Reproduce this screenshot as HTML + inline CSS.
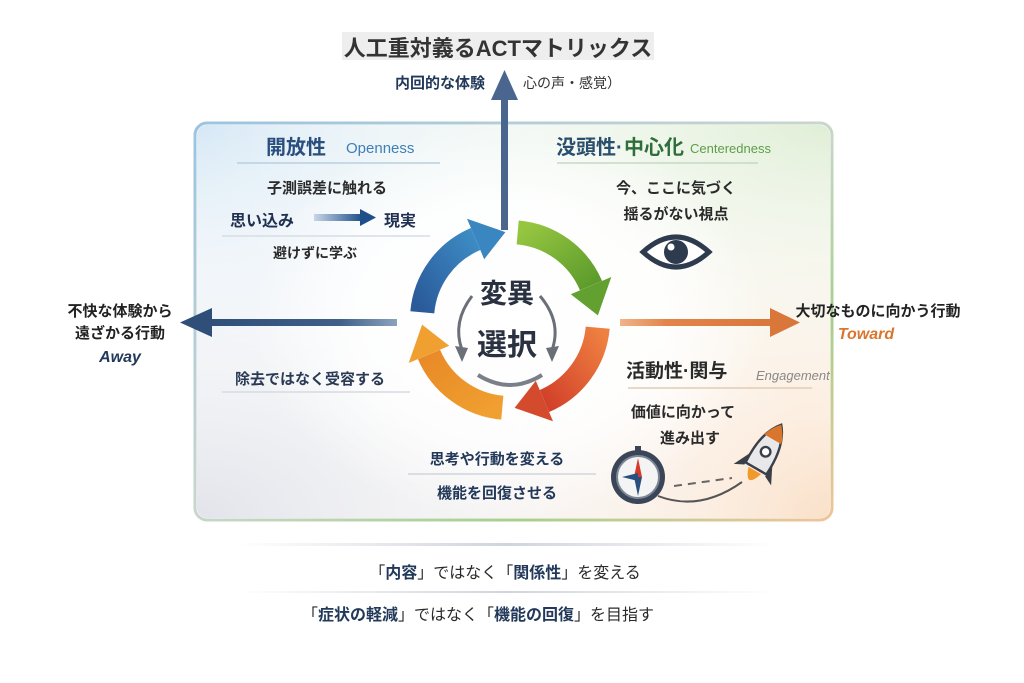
<!DOCTYPE html>
<html><head><meta charset="utf-8"><style>
html,body{margin:0;padding:0;background:#fff;}
svg{display:block;font-family:"Liberation Sans","Noto Sans CJK JP",sans-serif;}
</style></head><body>
<svg width="1024" height="683" viewBox="0 0 1024 683" xmlns="http://www.w3.org/2000/svg">
<defs>
<radialGradient id="tl" cx="0" cy="0" r="1"><stop offset="0" stop-color="#d6e8f5"/><stop offset="1" stop-color="#fff" stop-opacity="0"/></radialGradient>
<radialGradient id="tr" cx="1" cy="0" r="1"><stop offset="0" stop-color="#e0eed6"/><stop offset="1" stop-color="#fff" stop-opacity="0"/></radialGradient>
<radialGradient id="br" cx="1" cy="1" r="1"><stop offset="0" stop-color="#fae0c8"/><stop offset="1" stop-color="#fff" stop-opacity="0"/></radialGradient>
<radialGradient id="bl" cx="0" cy="1" r="1"><stop offset="0" stop-color="#e2e4ea"/><stop offset="1" stop-color="#fff" stop-opacity="0"/></radialGradient>
<radialGradient id="ctr" cx="0.5" cy="0.5" r="0.5"><stop offset="0" stop-color="#fff"/><stop offset="0.6" stop-color="#fff" stop-opacity="0.8"/><stop offset="1" stop-color="#fff" stop-opacity="0"/></radialGradient>
<linearGradient id="bord" x1="0" y1="0" x2="1" y2="1"><stop offset="0" stop-color="#9cc3e0"/><stop offset="0.5" stop-color="#c9d6cc"/><stop offset="0.75" stop-color="#a9cf8e"/><stop offset="1" stop-color="#f0c49a"/></linearGradient>
<linearGradient id="arrL" x1="1" y1="0" x2="0" y2="0"><stop offset="0" stop-color="#8aa2bd"/><stop offset="0.3" stop-color="#3f5f88"/><stop offset="1" stop-color="#2f4e78"/></linearGradient>
<linearGradient id="arrR" x1="0" y1="0" x2="1" y2="0"><stop offset="0" stop-color="#f0b48a"/><stop offset="0.3" stop-color="#e2844a"/><stop offset="1" stop-color="#d9763a"/></linearGradient>
<linearGradient id="smallarr" x1="0" y1="0" x2="1" y2="0"><stop offset="0" stop-color="#c8d6e6"/><stop offset="1" stop-color="#1f4f8a"/></linearGradient>
<linearGradient id="bluG" x1="0" y1="1" x2="1" y2="0"><stop offset="0" stop-color="#2a5a9a"/><stop offset="1" stop-color="#3d8cc4"/></linearGradient>
<linearGradient id="grnG" x1="0" y1="0" x2="1" y2="1"><stop offset="0" stop-color="#96c640"/><stop offset="1" stop-color="#5c9b2c"/></linearGradient>
<linearGradient id="redG" x1="1" y1="0" x2="0" y2="1"><stop offset="0" stop-color="#ee8040"/><stop offset="1" stop-color="#d2402a"/></linearGradient>
<linearGradient id="orgG" x1="1" y1="1" x2="0" y2="0"><stop offset="0" stop-color="#f0a030"/><stop offset="1" stop-color="#e88a28"/></linearGradient>
<linearGradient id="hl" x1="0" y1="0" x2="1" y2="0"><stop offset="0" stop-color="#d0d4dc" stop-opacity="0"/><stop offset="0.5" stop-color="#d0d4dc"/><stop offset="1" stop-color="#d0d4dc" stop-opacity="0"/></linearGradient>
</defs>

<rect x="342" y="32" width="312" height="28" fill="#eeeeee"/>
<text x="498" y="56" font-size="22" font-weight="bold" fill="#333" text-anchor="middle">人工重対義るACTマトリックス</text>

<rect x="195" y="123" width="637" height="397" rx="12" fill="#fff" stroke="url(#bord)" stroke-width="3"/>
<rect x="197" y="125" width="633" height="393" rx="10" fill="url(#tl)"/>
<rect x="197" y="125" width="633" height="393" rx="10" fill="url(#tr)"/>
<rect x="197" y="125" width="633" height="393" rx="10" fill="url(#br)"/>
<rect x="197" y="125" width="633" height="393" rx="10" fill="url(#bl)"/>
<ellipse cx="510" cy="320" rx="260" ry="200" fill="url(#ctr)"/>

<rect x="501" y="95" width="7" height="135" fill="#4a668e"/>
<polygon points="504.5,70 491,100 518,100" fill="#4a668e"/>
<text x="440" y="88" font-size="15" font-weight="bold" fill="#23395a" text-anchor="middle">内回的な体験</text>
<text x="523" y="88" font-size="14" fill="#333">心の声・感覚）</text>

<rect x="205" y="319" width="192" height="7" fill="url(#arrL)"/>
<polygon points="180,322.5 212,308 212,337" fill="#2f4e78"/>
<rect x="620" y="319" width="155" height="7" fill="url(#arrR)"/>
<polygon points="800,322.5 770,308 770,337" fill="#d9763a"/>

<text x="120" y="316" font-size="15" font-weight="bold" fill="#222" text-anchor="middle">不快な体験から</text>
<text x="120" y="338" font-size="15" font-weight="bold" fill="#222" text-anchor="middle">遠ざかる行動</text>
<text x="120" y="362" font-size="16" font-weight="bold" font-style="italic" fill="#23395a" text-anchor="middle">Away</text>
<text x="878" y="316" font-size="15" font-weight="bold" fill="#222" text-anchor="middle">大切なものに向かう行動</text>
<text x="866" y="339" font-size="16" font-weight="bold" font-style="italic" fill="#d9762e" text-anchor="middle">Toward</text>

<text x="266" y="154" font-size="20" font-weight="bold" fill="#2a4f7e">開放性</text>
<text x="346" y="153" font-size="15" fill="#3f7fb5">Openness</text>
<line x1="237" y1="163" x2="440" y2="163" stroke="#b8cfe0" stroke-width="1.5"/>
<text x="327" y="193" font-size="15" font-weight="bold" fill="#2a2a2a" text-anchor="middle">子測誤差に触れる</text>
<text x="230" y="226" font-size="16" font-weight="bold" fill="#1f3050">思い込み</text>
<rect x="314" y="214" width="48" height="7" fill="url(#smallarr)"/>
<polygon points="376,217.5 360,209 360,226" fill="#1f4f8a"/>
<text x="384" y="226" font-size="16" font-weight="bold" fill="#1f3050">現実</text>
<line x1="222" y1="236" x2="430" y2="236" stroke="#d6dde4" stroke-width="1.5"/>
<text x="315" y="258" font-size="14" font-weight="bold" fill="#2a2a2a" text-anchor="middle">避けずに学ぶ</text>

<text x="556" y="154" font-size="20" font-weight="bold" fill="#2a4f6e">没頭性·</text>
<text x="624" y="154" font-size="20" font-weight="bold" fill="#2f6e3a">中心化</text>
<text x="690" y="153" font-size="13" fill="#5c9e48">Centeredness</text>
<line x1="557" y1="163" x2="758" y2="163" stroke="#c8d8c4" stroke-width="1.5"/>
<text x="676" y="193" font-size="15" font-weight="bold" fill="#2a2a2a" text-anchor="middle">今、ここに気づく</text>
<text x="676" y="219" font-size="15" font-weight="bold" fill="#2a2a2a" text-anchor="middle">揺るがない視点</text>
<path d="M643 252 Q676 222 709 252 Q676 282 643 252 Z" fill="#fff" stroke="#2e3b4e" stroke-width="5"/>
<circle cx="676" cy="252" r="12" fill="#2e3b4e"/>
<circle cx="671" cy="247" r="3.5" fill="#fff"/>

<path d="M422.3 312.3 A88 88 0 0 1 475.6 239.0" fill="none" stroke="url(#bluG)" stroke-width="24"/>
<polygon points="467.0,218.7 505.4,232.1 484.2,259.2" fill="#3a86c0"/>
<path d="M517.7 232.4 A88 88 0 0 1 591.0 285.6" fill="none" stroke="url(#grnG)" stroke-width="24"/>
<polygon points="611.3,277.0 597.9,315.4 570.8,294.2" fill="#62a030"/>
<path d="M597.7 327.7 A88 88 0 0 1 544.4 401.0" fill="none" stroke="url(#redG)" stroke-width="24"/>
<polygon points="553.0,421.3 514.6,407.9 535.8,380.8" fill="#d44a2c"/>
<path d="M502.3 407.7 A88 88 0 0 1 429.0 354.4" fill="none" stroke="url(#orgG)" stroke-width="24"/>
<polygon points="408.7,363.0 422.1,324.6 449.2,345.8" fill="#f0a030"/>

<path d="M472 296 Q452 322 462 350" fill="none" stroke="#6a6f78" stroke-width="3"/>
<polygon points="455,346 468,348 462,362" fill="#6a6f78"/>
<path d="M540 296 Q562 322 552 350" fill="none" stroke="#6a6f78" stroke-width="3"/>
<polygon points="546,348 559,346 552,362" fill="#6a6f78"/>
<path d="M478 375 Q510 395 542 375" fill="none" stroke="#7a7f88" stroke-width="4"/>
<text x="507" y="303" font-size="27" font-weight="bold" fill="#2a3140" text-anchor="middle">変異</text>
<text x="507" y="355" font-size="30" font-weight="bold" fill="#2a3140" text-anchor="middle">選択</text>

<text x="310" y="384" font-size="15" font-weight="bold" fill="#2a3a54" text-anchor="middle">除去ではなく受容する</text>
<line x1="222" y1="392" x2="410" y2="392" stroke="#d6dbe2" stroke-width="1.5"/>

<text x="626" y="377" font-size="19" font-weight="bold" fill="#2a2a2a">活動性·関与</text>
<text x="756" y="380" font-size="13" font-style="italic" fill="#888">Engagement</text>
<line x1="628" y1="388" x2="812" y2="388" stroke="#e0cdb4" stroke-width="1.5"/>
<text x="683" y="417" font-size="15" font-weight="bold" fill="#2a2a2a" text-anchor="middle">価値に向かって</text>
<text x="690" y="443" font-size="15" font-weight="bold" fill="#2a2a2a" text-anchor="middle">進み出す</text>
<text x="497" y="464" font-size="15" font-weight="bold" fill="#23395a" text-anchor="middle">思考や行動を変える</text>
<line x1="408" y1="474" x2="596" y2="474" stroke="#d0d5dc" stroke-width="1.5"/>
<text x="497" y="498" font-size="15" font-weight="bold" fill="#23395a" text-anchor="middle">機能を回復させる</text>

<circle cx="638" cy="477" r="27" fill="#3a4658"/>
<circle cx="638" cy="477" r="21" fill="#f4f4f4" stroke="#7b8796" stroke-width="2"/>
<polygon points="638,458 642,477 634,477" fill="#d33a2c"/>
<polygon points="638,496 642,477 634,477" fill="#2a4f7e"/>
<polygon points="622,477 638,473 638,481" fill="#2a4f7e"/>
<rect x="635" y="446" width="6" height="5" fill="#3a4658"/>
<path d="M658 496 Q700 512 742 482" fill="none" stroke="#555" stroke-width="2"/>
<path d="M674 486 L732 478" fill="none" stroke="#666" stroke-width="2" stroke-dasharray="8 6"/>

<g transform="translate(762,458) rotate(30) scale(1.2)">
<path d="M0 -32 Q12 -18 10 10 L-10 10 Q-12 -18 0 -32 Z" fill="#e8e8ea" stroke="#3a3f48" stroke-width="2"/>
<path d="M0 -32 Q7 -24 8 -18 L-8 -18 Q-7 -24 0 -32 Z" fill="#d9762e"/>
<circle cx="0" cy="-6" r="4" fill="#fff" stroke="#3a3f48" stroke-width="2"/>
<polygon points="-10,0 -18,16 -10,12" fill="#3a3f48"/>
<polygon points="10,0 18,16 10,12" fill="#3a3f48"/>
<path d="M-6 12 Q0 30 6 12 Z" fill="#f09a2c"/>
</g>

<rect x="236" y="543" width="540" height="3" fill="url(#hl)"/>
<text x="505" y="578" font-size="16" fill="#2a2a2a" text-anchor="middle">「<tspan font-weight="bold" fill="#23395a">内容</tspan>」ではなく「<tspan font-weight="bold" fill="#23395a">関係性</tspan>」を変える</text>
<rect x="236" y="591" width="540" height="2" fill="url(#hl)"/>
<text x="478" y="620" font-size="16" fill="#2a2a2a" text-anchor="middle">「<tspan font-weight="bold" fill="#23395a">症状の軽減</tspan>」ではなく「<tspan font-weight="bold" fill="#23395a">機能の回復</tspan>」を目指す</text>
</svg>
</body></html>
